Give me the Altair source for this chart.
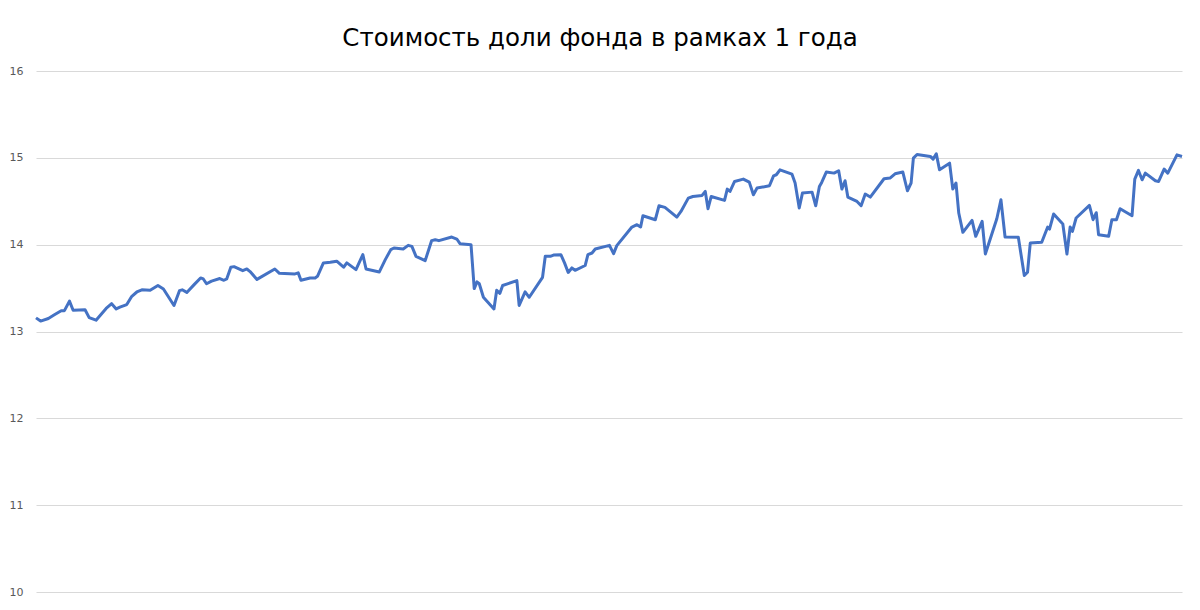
import altair as alt
import pandas as pd

day = [
    0.0, 1.0, 2.7, 4.1, 5.5, 6.2, 7.3, 8.1, 10.7, 11.6, 13.1, 15.3, 16.5, 17.5, 18.3, 19.8,
    20.9, 22.0, 23.1, 24.9, 26.6, 27.8, 30.1, 31.3, 31.9, 32.9, 34.5, 35.9, 36.5, 37.2,
    38.3, 40.1, 41.0, 41.6, 42.5, 43.2, 45.1, 46.0, 46.7, 48.2, 52.1, 53.1, 56.5, 57.2,
    57.8, 59.8, 60.9, 61.4, 62.7, 64.2,
    65.6, 67.1, 67.8, 69.8, 71.3, 72.0, 74.9, 76.2, 77.4, 78.1, 80.1, 81.2, 82.0, 82.9,
    84.9, 86.3, 87.1, 87.9, 90.7, 91.8, 92.5, 94.9, 95.6, 96.2, 96.7, 97.6, 99.9, 100.5,
    101.2, 101.8, 104.9, 105.4, 106.7, 107.6, 110.5, 111.1, 112.2, 112.9, 114.5, 115.3,
    116.1, 116.9, 117.6, 119.8, 120.4, 121.3, 122.0, 125.1, 126.0,
    126.7, 130.0, 131.1, 131.9, 132.4, 135.1, 135.9, 137.2, 139.8, 140.7, 142.3, 143.3,
    145.3, 146.0, 146.6, 147.3, 150.2, 150.8, 151.4, 152.4, 154.3, 155.6, 156.5, 157.3,
    160.0, 160.9, 161.5, 162.3, 164.9, 165.6, 166.5, 167.2, 169.3, 170.1, 170.9, 171.4,
    172.4, 174.1, 175.1, 175.8, 176.5, 177.1, 179.1, 180.0, 180.9, 182.0, 185.0,
    186.3, 187.4, 189.1, 190.1, 190.9, 191.4, 192.2, 195.1, 195.7, 196.4, 197.1, 199.3,
    200.0, 200.7, 201.3, 202.2, 204.2, 205.0, 206.4, 207.1, 209.6, 210.5, 211.4, 214.3,
    215.6, 216.3, 216.9, 219.4, 220.7, 221.1, 222.0, 224.0, 224.9, 225.6, 226.1, 226.9,
    229.8, 230.6, 231.3, 231.8, 234.0, 234.7, 235.7, 236.5, 239.1, 239.7, 240.5, 241.3,
    242.0, 244.2, 244.9, 246.1, 246.9, 248.9, 250.0,
]

price = [
    13.157, 13.12, 13.15, 13.195, 13.24, 13.24, 13.35, 13.245, 13.25, 13.16, 13.13, 13.265,
    13.32, 13.26, 13.28, 13.31, 13.405, 13.455, 13.48, 13.475, 13.53, 13.49, 13.30, 13.47,
    13.48, 13.45, 13.54, 13.617, 13.605, 13.55, 13.58, 13.61, 13.59, 13.605, 13.74, 13.747,
    13.70, 13.72, 13.69, 13.60, 13.72, 13.67, 13.663, 13.675, 13.59, 13.617, 13.617, 13.635,
    13.79, 13.797,
    13.81, 13.74, 13.79, 13.713, 13.885, 13.72, 13.686, 13.828, 13.943, 13.962, 13.95,
    13.992, 13.98, 13.865, 13.816, 14.046, 14.057, 14.046, 14.088, 14.065, 14.011, 14.0,
    13.494, 13.571, 13.55, 13.394, 13.26, 13.475, 13.44, 13.53, 13.586, 13.30, 13.456,
    13.394, 13.624, 13.866, 13.866, 13.88, 13.885, 13.79, 13.68, 13.732, 13.705, 13.76,
    13.885, 13.904, 13.95, 13.992, 13.897,
    13.989, 14.203, 14.23, 14.203, 14.333, 14.287, 14.448, 14.43, 14.318, 14.383, 14.536,
    14.555, 14.567, 14.613, 14.414, 14.555, 14.51, 14.64, 14.613, 14.728, 14.755, 14.72,
    14.575, 14.652, 14.678, 14.793, 14.805, 14.862, 14.813, 14.71, 14.422, 14.594, 14.605,
    14.448, 14.67, 14.717, 14.836, 14.824, 14.851, 14.64, 14.736, 14.548, 14.498, 14.448,
    14.583, 14.548, 14.759,
    14.767, 14.816, 14.836, 14.621, 14.71, 14.997, 15.039, 15.016, 14.985, 15.046, 14.862,
    14.939, 14.64, 14.71, 14.364, 14.142, 14.28, 14.096, 14.268, 13.893, 14.299, 14.517,
    14.088, 14.084, 13.644, 13.682, 14.019, 14.027, 14.203, 14.18, 14.353, 14.238, 13.893,
    14.203, 14.153, 14.307, 14.452, 14.287, 14.368, 14.115, 14.096, 14.287, 14.287, 14.414,
    14.333, 14.755, 14.855, 14.747, 14.824, 14.736, 14.728, 14.87, 14.824, 15.034, 15.016,
]

y_ticks = [10, 11, 12, 13, 14, 15, 16]
title_text = "Стоимость доли фонда в рамках 1 года"

df = pd.DataFrame({"day": day, "price": price})

chart = (
    alt.Chart(df)
    .mark_line(color="#4472C4", strokeWidth=3, strokeJoin="round")
    .encode(
        x=alt.X("day:Q", scale=alt.Scale(domain=[min(day), max(day)], nice=False), axis=None),
        y=alt.Y(
            "price:Q",
            scale=alt.Scale(domain=[10, 16], nice=False, zero=False),
            axis=alt.Axis(
                values=y_ticks,
                title=None,
                domain=False,
                ticks=False,
                grid=True,
                gridColor="#d9d9d9",
                gridWidth=1,
                labelColor="#595959",
                labelFont="DejaVu Sans",
                labelFontSize=11,
                labelPadding=13,
            ),
        ),
    )
    .properties(
        width=1146,
        height=521,
        background="white",
        title=alt.TitleParams(
            text=title_text,
            font="DejaVu Sans",
            fontSize=24.5,
            fontWeight="normal",
            color="#000000",
            anchor="middle",
            offset=14,
            dx=-9,
        ),
        autosize=alt.AutoSizeParams(type="none"),
        padding={"left": 28, "top": 63, "right": 10, "bottom": 10},
    )
    .configure_view(stroke=None, strokeWidth=0)
)

chart.save("out.html", embed_options={"renderer": "svg", "actions": False})
